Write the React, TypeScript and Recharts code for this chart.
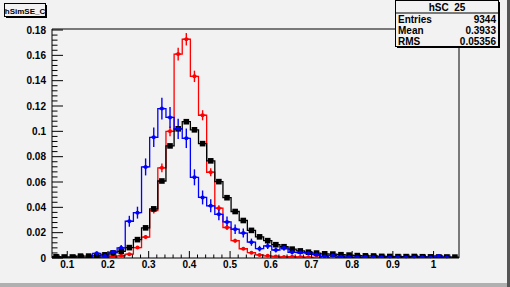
import { ComposedChart, Line, Scatter, ErrorBar, XAxis, YAxis, ReferenceLine } from 'recharts';

// binning: 50 bins of 0.02 between 0.0625 and 1.0625
const binLow = 0.0625;
const binWidth = 0.02;
const xMax = 1.0625;
const yMax = 0.1808;

const blackValues = [
  0.001, 0.0008, 0.0008, 0.0015, 0.0015, 0.0016, 0.0025, 0.004, 0.0052, 0.0082,
  0.0145, 0.0238, 0.0388, 0.0608, 0.0885, 0.102, 0.1076, 0.1012, 0.0903, 0.0767,
  0.0603, 0.0476, 0.0367, 0.0296, 0.0218, 0.0167, 0.0137, 0.0105, 0.0089, 0.007,
  0.0056, 0.0046, 0.0039, 0.0033, 0.0031, 0.0026, 0.0023, 0.0019, 0.0017, 0.0016,
  0.0013, 0.0012, 0.0011, 0.0011, 0.0012, 0.001, 0.0009, 0.0008, 0.0008, 0.0007,
];

const redValues = [
  0, 0, 0, 0, 0, 0.0003, 0.0005, 0.001, 0.0017, 0.003,
  0.0082, 0.0165, 0.0375, 0.0712, 0.1, 0.161, 0.1727, 0.1434, 0.1127, 0.0677,
  0.0393, 0.0241, 0.0137, 0.0073, 0.0042, 0.0024, 0.0017, 0.0012, 0.0008, 0.001,
  0.0008, 0.0006, 0.0004, 0.0004, 0.0003, 0, 0, 0, 0, 0,
  0, 0, 0, 0, 0, 0, 0, 0, 0, 0,
];

const redErrors = [
  0, 0, 0, 0, 0, 0.0002, 0.0003, 0.0004, 0.0005, 0.0007,
  0.0011, 0.0016, 0.0023, 0.0034, 0.0038, 0.005, 0.0049, 0.0045, 0.004, 0.0031,
  0.0024, 0.0019, 0.0014, 0.001, 0.0008, 0.0006, 0.0005, 0.0004, 0.0003, 0.0004,
  0.0003, 0.0003, 0.0002, 0.0002, 0.0002, 0, 0, 0, 0, 0,
  0, 0, 0, 0, 0, 0, 0, 0, 0, 0,
];

const blueValues = [
  0, 0, 0, 0, 0, 0.0037, 0.0015, 0.0047, 0.008, 0.029,
  0.0358, 0.0719, 0.0953, 0.118, 0.111, 0.102, 0.0945, 0.0637, 0.0478, 0.0412,
  0.0345, 0.0285, 0.0227, 0.0197, 0.0125, 0.0074, 0.0095, 0.0063, 0.008, 0.0045,
  0.0043, 0.0038, 0.0027, 0.0012, 0.002, 0.001, 0.0008, 0.0006, 0.0008, 0.0005,
  0.0006, 0.0004, 0.0005, 0.0004, 0.0004, 0.0006, 0.0004, 0.0016, 0.0004, 0,
];

const blueErrors = [
  0, 0, 0, 0, 0, 0.0015, 0.001, 0.0017, 0.0022, 0.0043,
  0.0047, 0.0067, 0.0077, 0.0086, 0.0083, 0.008, 0.0077, 0.0063, 0.0055, 0.0051,
  0.0046, 0.0042, 0.0038, 0.0035, 0.0028, 0.0022, 0.0024, 0.002, 0.0022, 0.0017,
  0.0016, 0.0015, 0.0013, 0.0009, 0.0011, 0.0008, 0.0007, 0.0006, 0.0007, 0.0006,
  0.0006, 0.0005, 0.0006, 0.0005, 0.0005, 0.0006, 0.0005, 0.001, 0.0005, 0,
];

const xMajorTicks = [0.1, 0.2, 0.3, 0.4, 0.5, 0.6, 0.7, 0.8, 0.9, 1.0];
const xTickLabels = ['0.1', '0.2', '0.3', '0.4', '0.5', '0.6', '0.7', '0.8', '0.9', '1'];
const yMajorTicks = [0, 0.02, 0.04, 0.06, 0.08, 0.1, 0.12, 0.14, 0.16, 0.18];
const yTickLabels = ['0', '0.02', '0.04', '0.06', '0.08', '0.1', '0.12', '0.14', '0.16', '0.18'];

const statRows = [
  ['Entries', '9344'],
  ['Mean', '0.3933'],
  ['RMS', '0.05356'],
];

const nBins = blackValues.length;
const font = "'Liberation Sans', Arial, Helvetica, sans-serif";

// bin edges for the step outlines
const histRows = Array.from({ length: nBins + 1 }, (_, k) => {
  const b = Math.min(k, nBins - 1);
  return { x: binLow + k * binWidth, black: blackValues[b], red: redValues[b], blue: blueValues[b] };
});

const points = (vals: number[], errs?: number[]) =>
  vals
    .map((v, i) => ({ x: binLow + (i + 0.5) * binWidth, y: v, err: errs ? errs[i] : 0 }))
    .filter((p) => p.y > 0);

const xTicks = Array.from({ length: 49 }, (_, k) => Math.round((0.08 + k * 0.02) * 1000) / 1000);
const yTicks = Array.from({ length: 46 }, (_, k) => Math.round(k * 0.004 * 10000) / 10000);

function XTick({ x, y, payload }: any) {
  const i = xMajorTicks.findIndex((t) => Math.abs(t - payload.value) < 1e-6);
  const major = i >= 0;
  return (
    <g>
      <line x1={x} y1={y} x2={x} y2={y - (major ? 7 : 3.5)} stroke="#000" />
      {major && (
        <text x={x} y={y + 10} textAnchor="middle" fontSize={10} fontWeight="bold" fontFamily={font} fill="#000">
          {xTickLabels[i]}
        </text>
      )}
    </g>
  );
}

function YTick({ x, y, payload }: any) {
  const i = yMajorTicks.findIndex((t) => Math.abs(t - payload.value) < 1e-6);
  const major = i >= 0;
  return (
    <g>
      <line x1={x} y1={y} x2={x + (major ? 11 : 5.5)} y2={y} stroke="#000" />
      {major && (
        <text x={x - 6} y={y + 3.6} textAnchor="end" fontSize={10} fontWeight="bold" fontFamily={font} fill="#000">
          {yTickLabels[i]}
        </text>
      )}
    </g>
  );
}

const crossShape = (color: string) => (p: any) => (
  <g>
    <line x1={p.cx - 3} x2={p.cx + 3} y1={p.cy} y2={p.cy} stroke={color} strokeWidth={1.4} />
    <circle cx={p.cx} cy={p.cy} r={2} fill={color} />
  </g>
);

const squareShape = (p: any) => <rect x={p.cx - 2.8} y={p.cy - 2.8} width={5.6} height={5.6} fill="#000" />;

export default function App() {
  return (
    <div style={{ position: 'fixed', left: 0, top: 0, width: 510, height: 287, background: '#f2f2f2' }}>
      <ComposedChart width={510} height={287} data={histRows} margin={{ top: 29, right: 51, bottom: 0, left: 0 }}>
        <XAxis
          dataKey="x"
          type="number"
          domain={[binLow, xMax]}
          allowDataOverflow
          ticks={xTicks}
          interval={0}
          height={29}
          tickSize={0}
          tickMargin={0}
          tickLine={false}
          tick={<XTick />}
          axisLine={{ stroke: '#000' }}
        />
        <YAxis
          type="number"
          domain={[0, yMax]}
          allowDataOverflow
          ticks={yTicks}
          interval={0}
          width={52}
          tickSize={0}
          tickMargin={0}
          tickLine={false}
          tick={<YTick />}
          axisLine={{ stroke: '#000' }}
        />
        <ReferenceLine y={yMax} stroke="#000" />
        <ReferenceLine x={xMax} stroke="#000" />

        <Line dataKey="red" type="stepAfter" stroke="#ff0000" strokeWidth={1.3} dot={false} isAnimationActive={false} />
        <Scatter data={points(redValues, redErrors)} dataKey="y" shape={crossShape('#ff0000')} isAnimationActive={false}>
          <ErrorBar dataKey="err" direction="y" width={0} stroke="#ff0000" strokeWidth={1.4} />
        </Scatter>

        <Line dataKey="black" type="stepAfter" stroke="#000" strokeWidth={1.3} dot={false} isAnimationActive={false} />
        <Scatter data={points(blackValues)} dataKey="y" shape={squareShape} isAnimationActive={false} />

        <Line dataKey="blue" type="stepAfter" stroke="#0000ff" strokeWidth={1.3} dot={false} isAnimationActive={false} />
        <Scatter data={points(blueValues, blueErrors)} dataKey="y" shape={crossShape('#0000ff')} isAnimationActive={false}>
          <ErrorBar dataKey="err" direction="y" width={0} stroke="#0000ff" strokeWidth={1.4} />
        </Scatter>
      </ComposedChart>

      <svg width={510} height={287} style={{ position: 'absolute', left: 0, top: 0, pointerEvents: 'none' }}>
        {/* canvas border */}
        <rect x={0} y={283} width={510} height={4} fill="#b0b0b0" />
        <rect x={507} y={0} width={3} height={287} fill="#555" />

        {/* title box */}
        <rect x={6} y={5} width={41} height={13} fill="#000" />
        <rect x={4.5} y={3.5} width={41} height={13} fill="#f2f2f2" stroke="#000" />
        <text x={25} y={13.5} textAnchor="middle" fontSize={8} fontWeight="bold" fontFamily={font} fill="#000">
          hSimSE_C
        </text>

        {/* stats box */}
        <rect x={397} y={2} width={103} height={46} fill="#000" />
        <rect x={395.5} y={0.5} width={103} height={46} fill="#f2f2f2" stroke="#000" />
        <line x1={395.5} x2={498.5} y1={13} y2={13} stroke="#000" />
        <text x={447} y={10.5} textAnchor="middle" fontSize={10} fontWeight="bold" fontFamily={font} fill="#000" xmlSpace="preserve">
          hSC  25
        </text>
        {statRows.map(([k, v], i) => (
          <g key={k}>
            <text x={398} y={22.5 + i * 11.3} fontSize={10} fontWeight="bold" fontFamily={font} fill="#000">
              {k}
            </text>
            <text x={496} y={22.5 + i * 11.3} textAnchor="end" fontSize={10} fontWeight="bold" fontFamily={font} fill="#000">
              {v}
            </text>
          </g>
        ))}
      </svg>
    </div>
  );
}
